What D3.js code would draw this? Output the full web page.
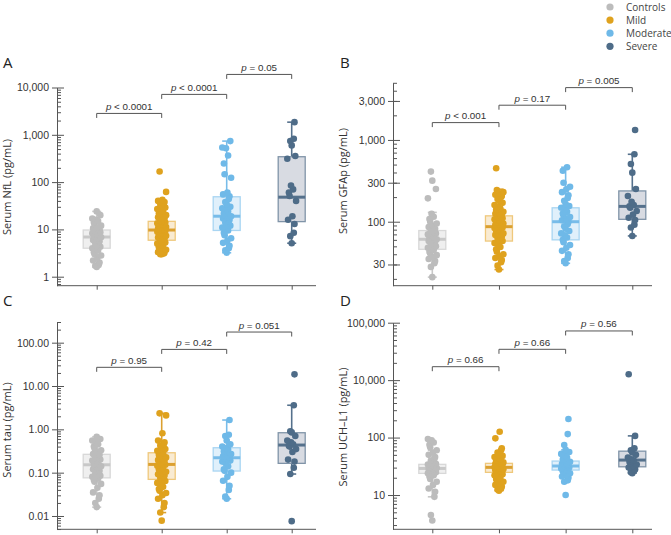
<!DOCTYPE html>
<html><head><meta charset="utf-8">
<script src="https://cdn.jsdelivr.net/npm/d3@7"></script>
<style>body{margin:0;background:#fff} svg{display:block}</style>
</head><body>
<svg id="c" width="671" height="535"></svg>
<script>
// ---------- DATA ----------
const groups = ["Controls", "Mild", "Moderate", "Severe"];
const colors = ["#bcbcbc", "#dfa21e", "#6fb9e8", "#4e6c88"];
const boxFill = ["#efefef", "#f9ebd2", "#e0f0fb", "#d8dbe2"];
const boxStroke = ["#d8d8d8", "#efc87c", "#a9d5f2", "#8094a8"];
const medColor = ["#c8c8c8", "#dba030", "#78bce9", "#55718c"];

// Panel A: Serum NfL (pg/mL)
const nflControls = [1.6,1.7,1.8,2.0,2.2,2.5,2.8,3.0,3.3,3.6,3.9,4.0,4.3,4.6,5.0,5.3,5.6,6.0,6.4,6.8,7.0,7.3,7.6,8.0,8.3,8.7,9.0,9.4,9.7,10,10.5,11,12,13,14,15,16,17,20,24];
const nflMild = [3.0,3.0,3.1,3.2,3.3,3.5,3.7,3.9,4.2,4.5,4.8,5.0,5.3,5.6,5.9,6.1,6.4,6.7,7.0,7.3,7.6,8.0,8.3,8.6,8.9,9.2,9.5,9.7,9.9,10.2,10.5,10.8,11.2,11.6,12.0,12.5,13.0,13.5,14.0,14.5,15,16,17,18,19,20,21,22,24,25,27,29,31,33,35,38,40,42,62,168];
const nflModerate = [3.2,3.6,4.0,4.5,5.2,5.8,6.5,7.5,8.5,9.5,10,11,12,13,14,15,16,17,18,19,20,22,24,26,28,30,34,38,44,50,55,60,124,146,248,366,520,540,736];
const nflSevere = [5.1,7.2,8.5,13,16,19,40,51,60,70,85,312,355,597,740,826,1850];
// box stats: [q1, median, q3, whiskerLow, whiskerHigh]
const nflBoxes = [[4.0,6.9,9.7,1.6,24],[5.9,9.7,14.8,3.0,38],[9.5,19,49,3.2,736],[14.6,48,344,5.1,1850]];
const nflTicks = [1,10,100,1000,10000];
const nflTickLabels = ["1","10","100","1,000","10,000"];
const nflP = ["< 0.0001","< 0.0001","= 0.05"];
const nflBracketAt = [2830,7150,18900];

// Panel B: Serum GFAp (pg/mL)
const gfapControls = [21,28,31,33,35,37,39,41,43,45,46,48,50,52,53,55,57,58,60,61,62,64,66,68,70,72,74,77,79,82,86,90,95,100,108,115,125,193,251,318,410];
const gfapMild = [26,29,32,34,36,38,40,43,46,49,52,55,58,60,63,64,66,69,70,72,75,78,80,81,84,85,86,88,89,90,92,93,95,97,98,101,104,107,110,112,114,118,122,125,127,132,138,140,145,152,160,170,180,190,200,206,214,222,230,244,451];
const gfapModerate = [31,33,36,40,44,48,52,56,60,64,68,72,77,82,88,94,100,104,108,114,120,126,132,140,148,156,165,180,195,210,230,250,268,300,420,464];
const gfapSevere = [67,85,92,105,112,122,135,148,154,160,175,206,251,398,508,668,1325];
const gfapBoxes = [[46,61,78,21,130],[58,87,118,26,250],[60,100,148,31,464],[107,154,238,67,668]];
const gfapTicks = [30,100,300,1000,3000];
const gfapTickLabels = ["30","100","300","1,000","3,000"];
const gfapP = ["< 0.001","= 0.17","= 0.005"];
const gfapBracketAt = [1630,2660,4365];

// Panel C: Serum tau (pg/mL)
const tauControls = [0.016,0.02,0.025,0.03,0.035,0.045,0.055,0.062,0.068,0.073,0.076,0.08,0.085,0.09,0.095,0.1,0.11,0.12,0.13,0.14,0.15,0.155,0.165,0.175,0.19,0.2,0.215,0.23,0.245,0.26,0.27,0.3,0.33,0.36,0.4,0.45,0.5,0.55,0.6,0.675];
const tauMild = [0.0078,0.012,0.016,0.02,0.025,0.03,0.034,0.038,0.042,0.047,0.052,0.058,0.064,0.07,0.075,0.08,0.086,0.092,0.098,0.105,0.112,0.12,0.128,0.136,0.145,0.152,0.158,0.165,0.175,0.185,0.195,0.21,0.225,0.24,0.26,0.28,0.3,0.32,0.35,0.38,0.42,0.46,0.5,0.55,0.81,2.1,2.34];
const tauModerate = [0.025,0.028,0.04,0.05,0.065,0.08,0.1,0.11,0.12,0.14,0.16,0.18,0.19,0.2,0.21,0.22,0.23,0.24,0.25,0.27,0.29,0.31,0.34,0.37,0.4,0.45,0.55,0.7,0.75,1.64];
const tauSevere = [0.0076,0.093,0.13,0.18,0.2,0.3,0.35,0.4,0.42,0.45,0.5,0.55,0.7,0.85,0.9,3.6,18.6];
const tauBoxes = [[0.076,0.152,0.265,0.016,0.675],[0.07,0.155,0.288,0.012,2.34],[0.109,0.221,0.376,0.025,1.64],[0.164,0.434,0.835,0.093,3.6]];
const tauTicks = [0.01,0.1,1,10,100];
const tauTickLabels = ["0.01","0.10","1.00","10.00","100.00"];
const tauP = ["= 0.95","= 0.42","= 0.051"];
const tauBracketAt = [27,70,176];

// Panel D: Serum UCH-L1 (pg/mL) — values on the chart's own decade grid
const uchControls = [3.6,4.5,9.3,11.4,13,15,17,19,21,22,23,24,25,26,27,27.5,28,28.5,29,29.5,30,31,32,33,34,35,37,40,43,46,50,55,60,68,75,82,90,94];
const uchMild = [11.9,12.5,13,14,15,16,17,18,19,20,21,22,23,24,25,25.5,26,27,27.5,28,28.5,29,29.5,30,30.5,31,31.5,32,33,34,35,36,37,38,40,42,44,46,48,50,55,60,65,97,126];
const uchModerate = [10,17,18,20,21,22,24,25,26,27,28,29,30,31,32,33,34,35,36,38,40,42,45,48,52,56,61,74,115,210];
const uchSevere = [24,25,27,28,30,32,34,36,38,40,42,45,50,55,60,65,107,1270];
const uchBoxes = [[23.8,29,34.2,9.3,60],[24.8,30.3,35.6,11.9,50],[27.2,32,39,17,61],[31,40.6,58,24,107]];
const uchTicks = [10,100,1000,10000];
const uchTickLabels = ["10","100","10,000","100,000"];
const uchP = ["= 0.66","= 0.66","= 0.56"];
const uchBracketAt = [1714,3443,7180];

// ---------- LAYOUT ----------
const panels = [
  {letter:"A", lx:3, ly:68, title:"Serum NfL (pg/mL)", tx:10.5, ty:187,
   axisX:57, xEnd:316, c0:96.7, c1:291.7, top:87.5, bottom:285.7, domain:[0.645,10000],
   series:[nflControls,nflMild,nflModerate,nflSevere], boxes:nflBoxes,
   ticks:nflTicks, labels:nflTickLabels, p:nflP, br:nflBracketAt},
  {letter:"B", lx:340, ly:68, title:"Serum GFAp (pg/mL)", tx:347, ty:181,
   axisX:393, xEnd:652, c0:432.3, c1:632.3, top:82.8, bottom:285.7, domain:[16.5,5000],
   series:[gfapControls,gfapMild,gfapModerate,gfapSevere], boxes:gfapBoxes,
   ticks:gfapTicks, labels:gfapTickLabels, p:gfapP, br:gfapBracketAt},
  {letter:"C", lx:3, ly:306, title:"Serum tau (pg/mL)", tx:10.5, ty:430,
   axisX:57, xEnd:316, c0:96.7, c1:291.7, top:321.7, bottom:529.3, domain:[0.00493,305],
   series:[tauControls,tauMild,tauModerate,tauSevere], boxes:tauBoxes,
   ticks:tauTicks, labels:tauTickLabels, p:tauP, br:tauBracketAt},
  {letter:"D", lx:340, ly:306, title:"Serum UCH\u2013L1 (pg/mL)", tx:347, ty:427,
   axisX:393, xEnd:652, c0:432.3, c1:632.3, top:322.7, bottom:529.3, domain:[2.53,10000],
   series:[uchControls,uchMild,uchModerate,uchSevere], boxes:uchBoxes,
   ticks:uchTicks, labels:uchTickLabels, p:uchP, br:uchBracketAt}
];

const axisColor = "#555";
const jit = [0,-2.8,2.8,-4.4,4.4,-1.4,1.4,-3.6,3.6,-2.1,2.1,-0.7,0.7];
const svg = d3.select("#c");

function drawPanel(p) {
  const y = d3.scaleLog().domain(p.domain).range([p.bottom, p.top]);
  const x = d3.scalePoint().domain(groups).range([p.c0, p.c1]);
  const g = svg.append("g");

  g.append("text").attr("x", p.lx).attr("y", p.ly).text(p.letter)
    .attr("font-family","Open Sans").attr("font-size",15).attr("fill","#222");
  g.append("text").attr("transform",`translate(${p.tx},${p.ty}) rotate(-90)`)
    .attr("text-anchor","middle").attr("font-family","Open Sans").attr("font-size",11)
    .attr("fill","#333").text(p.title);

  const minors = [];
  const lo = Math.floor(Math.log10(p.domain[0])), hi = Math.ceil(Math.log10(p.domain[1]));
  for (let e = lo; e <= hi; e++) for (let m = 2; m <= 9; m++) {
    const v = m * Math.pow(10, e);
    if (v >= p.domain[0] && v <= p.domain[1]) minors.push(v);
  }
  const minorAx = g.append("g").attr("transform",`translate(${p.axisX},0)`)
    .call(d3.axisRight(y).tickValues(minors).tickSize(4).tickSizeOuter(0).tickFormat(""));
  minorAx.select(".domain").remove();
  minorAx.selectAll("line").attr("stroke", axisColor);

  const majRight = g.append("g").attr("transform",`translate(${p.axisX},0)`)
    .call(d3.axisRight(y).tickValues(p.ticks).tickSize(7).tickSizeOuter(0).tickFormat(""));
  majRight.select(".domain").remove();
  majRight.selectAll("line").attr("stroke", axisColor);

  const yAx = g.append("g").attr("transform",`translate(${p.axisX},0)`)
    .call(d3.axisLeft(y).tickValues(p.ticks).tickSize(5).tickSizeOuter(0)
      .tickFormat((d,i) => p.labels[i]));
  yAx.select(".domain").attr("stroke", axisColor);
  yAx.selectAll("line").attr("stroke", axisColor);
  yAx.selectAll("text").attr("font-family","Liberation Sans").attr("font-size",10.5).attr("fill","#333");

  g.append("line").attr("x1", p.axisX).attr("x2", p.xEnd).attr("y1", p.bottom).attr("y2", p.bottom)
    .attr("stroke", axisColor);
  const xAx = g.append("g").attr("transform",`translate(0,${p.bottom})`)
    .call(d3.axisBottom(x).tickSize(4).tickSizeOuter(0).tickFormat(""));
  xAx.select(".domain").remove();
  xAx.selectAll("line").attr("stroke", axisColor);

  const bw = 27, cw = 9;
  groups.forEach((grp, gi) => {
    const [q1, med, q3, wl, wh] = p.boxes[gi];
    const cx = x(grp);
    const bg = g.append("g");
    bg.append("line").attr("x1",cx).attr("x2",cx).attr("y1",y(wh)).attr("y2",y(q3))
      .attr("stroke", medColor[gi]).attr("stroke-width",1.6);
    bg.append("line").attr("x1",cx).attr("x2",cx).attr("y1",y(q1)).attr("y2",y(wl))
      .attr("stroke", medColor[gi]).attr("stroke-width",1.6);
    bg.append("line").attr("x1",cx-cw/2).attr("x2",cx+cw/2).attr("y1",y(wh)).attr("y2",y(wh))
      .attr("stroke", medColor[gi]).attr("stroke-width",1.6);
    bg.append("line").attr("x1",cx-cw/2).attr("x2",cx+cw/2).attr("y1",y(wl)).attr("y2",y(wl))
      .attr("stroke", medColor[gi]).attr("stroke-width",1.6);
    bg.append("rect").attr("x",cx-bw/2).attr("width",bw).attr("y",y(q3)).attr("height",y(q1)-y(q3))
      .attr("fill", boxFill[gi]).attr("stroke", boxStroke[gi]).attr("stroke-width",1.3);
    bg.append("line").attr("x1",cx-bw/2).attr("x2",cx+bw/2).attr("y1",y(med)).attr("y2",y(med))
      .attr("stroke", medColor[gi]).attr("stroke-width",3);
  });
  groups.forEach((grp, gi) => {
    g.append("g").selectAll("circle").data(p.series[gi]).join("circle")
      .attr("cx",(d,i) => x(grp) + jit[(i*5) % jit.length])
      .attr("cy", d => y(d)).attr("r",3.3).attr("fill", colors[gi]);
  });

  p.br.forEach((v, i) => {
    const xa = x(groups[i]), xb = x(groups[i+1]), yy = y(v);
    g.append("path").attr("d",`M${xa},${yy+4.5}V${yy}H${xb}V${yy+4.5}`)
      .attr("fill","none").attr("stroke","#555").attr("stroke-width",1);
    const t = g.append("text").attr("x",(xa+xb)/2).attr("y",yy-3.5).attr("text-anchor","middle")
      .attr("font-family","Liberation Sans").attr("font-size",9.8).attr("fill","#333");
    t.append("tspan").attr("font-style","italic").text("p");
    t.append("tspan").text(" " + p.p[i]);
  });
}
panels.forEach(drawPanel);

const lg = svg.append("g");
groups.forEach((grp, i) => {
  lg.append("circle").attr("cx",610).attr("cy",7 + 13.1*i).attr("r",3.6).attr("fill",colors[i]);
  lg.append("text").attr("x",626).attr("y",7 + 13.1*i).attr("dy","0.35em")
    .attr("font-family","Open Sans").attr("font-size",10).attr("fill","#444").text(grp);
});
</script>
</body></html>
